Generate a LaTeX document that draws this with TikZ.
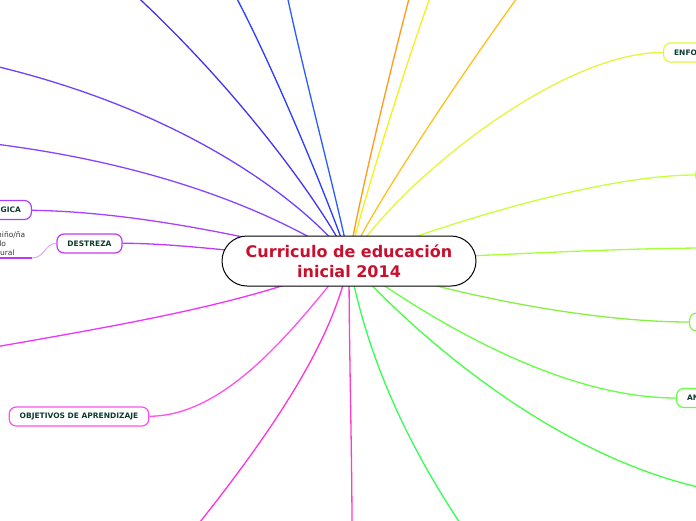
\documentclass[tikz,border=0pt]{standalone}
\usepackage{fontspec}
\setmainfont{DejaVu Sans}
\pgfdeclarelayer{bg}
\pgfsetlayers{bg,main}
\definecolor{rootred}{HTML}{C8102E}
\definecolor{topictext}{HTML}{0D3B2E}
\definecolor{cA}{HTML}{4433EE}
\definecolor{cB}{HTML}{2A3CFF}
\definecolor{cC}{HTML}{2A5CFF}
\definecolor{cOrange}{HTML}{FF9A1A}
\definecolor{cYellow}{HTML}{F2F21A}
\definecolor{cGold}{HTML}{FFC21A}
\definecolor{cEnfo}{HTML}{E6F53A}
\definecolor{cLime}{HTML}{C8FF3A}
\definecolor{cLimeB}{HTML}{A6FF3A}
\definecolor{cGreenA}{HTML}{88F044}
\definecolor{cAn}{HTML}{66FF44}
\definecolor{cGreenB}{HTML}{44FF44}
\definecolor{cGreenC}{HTML}{33FF55}
\definecolor{cPinkA}{HTML}{FF3ACC}
\definecolor{cPinkB}{HTML}{FF33DD}
\definecolor{cObj}{HTML}{FF50EE}
\definecolor{cMag}{HTML}{EE33FF}
\definecolor{cDes}{HTML}{C23AF0}
\definecolor{cDesLight}{HTML}{E2A8F5}
\definecolor{cGica}{HTML}{AA40FF}
\definecolor{cVioA}{HTML}{8844FF}
\definecolor{cVioB}{HTML}{7040FF}
\begin{document}
\begin{tikzpicture}[x=1pt, y=-1pt,
    topic/.style={draw, fill=white, rounded corners=7pt, line width=1.2pt,
      font=\bfseries\fontsize{7.5}{9}\selectfont, text=topictext,
      minimum height=19pt, inner xsep=10.5pt, inner ysep=2pt},
    branch/.style={line width=1.3pt}]
  \useasboundingbox (0,0) rectangle (696,520);
  \node[draw=black, fill=white, line width=1pt, rounded corners=25pt,
    minimum width=254pt, minimum height=50pt, align=center, text=rootred,
    font=\bfseries\fontsize{16}{20}\selectfont] (root) at (349,261)
    {Curriculo de educación\\inicial 2014};
  \node[topic, draw=cDes] (destreza) at (89.5,243.5) {DESTREZA};
  \node[topic, draw=cGica, anchor=east] (gica) at (32,210) {GICA};
  \node[topic, draw=cObj] (objetivos) at (79,416.5) {OBJETIVOS DE APRENDIZAJE};
  \node[topic, draw=cEnfo, anchor=west] (enfoque) at (663,52.5) {ENFO};
  \node[topic, draw=cLime, anchor=west, minimum width=30pt, minimum height=16pt] (limetopic) at (695,175) {};
  \node[topic, draw=cGreenA, anchor=west, minimum width=30pt, minimum height=18pt] (greentopic) at (689,322) {};
  \node[topic, draw=cAn, anchor=west] (an) at (676,398) {AN};
  \node[anchor=south west, align=left, inner sep=0pt, text=black!80,
    font=\fontsize{7.5}{9}\selectfont] (dchild) at (-3,256) {niño/ña\\llo\\tural};
  \coordinate (under) at (32,258);
  \coordinate (underend) at (-5,258);
  \coordinate (eA) at (130,-10);
  \coordinate (eB) at (235,-5);
  \coordinate (eC) at (287,-5);
  \coordinate (eOrange) at (410,-5);
  \coordinate (eYellow) at (431,-5);
  \coordinate (eGold) at (520,-6);
  \coordinate (eLimeB) at (710,248);
  \coordinate (eGreenB) at (712,490);
  \coordinate (eGreenC) at (466,532);
  \coordinate (ePinkA) at (352,530);
  \coordinate (ePinkB) at (192,532);
  \coordinate (eMag) at (-5,347);
  \coordinate (eVioA) at (-5,144);
  \coordinate (eVioB) at (-5,66);
  \begin{pgfonlayer}{bg}
    \draw[branch, cA] (root.center) .. controls (335,225) and (250,100) .. (eA);
    \draw[branch, cB] (root.center) .. controls (340,230) and (280,80) .. (eB);
    \draw[branch, cC] (root.center) .. controls (345,230) and (305,80) .. (eC);
    \draw[branch, cOrange] (root.center) .. controls (352,230) and (390,70) .. (eOrange);
    \draw[branch, cYellow] (root.center) .. controls (355,230) and (400,80) .. (eYellow);
    \draw[branch, cGold] (root.center) .. controls (362,225) and (450,90) .. (eGold);
    \draw[branch, cEnfo] (root.center) .. controls (400,180) and (560,52) .. (enfoque);
    \draw[branch, cLime] (root.center) .. controls (440,225) and (600,175) .. (limetopic);
    \draw[branch, cLimeB] (root.center) .. controls (450,258) and (600,248) .. (eLimeB);
    \draw[branch, cGreenA] (root.center) .. controls (470,300) and (600,322) .. (greentopic);
    \draw[branch, cAn] (root.center) .. controls (430,320) and (560,398) .. (an);
    \draw[branch, cGreenB] (root.center) .. controls (420,340) and (560,460) .. (eGreenB);
    \draw[branch, cGreenC] (root.center) .. controls (362,330) and (390,420) .. (eGreenC);
    \draw[branch, cPinkA] (root.center) .. controls (349,350) and (352,450) .. (ePinkA);
    \draw[branch, cPinkB] (root.center) .. controls (335,330) and (290,410) .. (ePinkB);
    \draw[branch, cObj] (root.center) .. controls (300,320) and (230,416) .. (objetivos);
    \draw[branch, cMag] (root.center) .. controls (260,300) and (150,320) .. (eMag);
    \draw[branch, cDes] (root.center) .. controls (260,255) and (180,243) .. (destreza);
    \draw[branch, cGica] (root.center) .. controls (280,245) and (150,212) .. (gica);
    \draw[branch, cVioA] (root.center) .. controls (310,235) and (200,170) .. (eVioA);
    \draw[branch, cVioB] (root.center) .. controls (330,230) and (220,120) .. (eVioB);
  \end{pgfonlayer}
  \draw[line width=1pt, cDesLight] (destreza.west) .. controls (45,243) and (45,258) .. (under);
  \draw[line width=1.3pt, cDes] (under) -- (underend);
\end{tikzpicture}
\end{document}
